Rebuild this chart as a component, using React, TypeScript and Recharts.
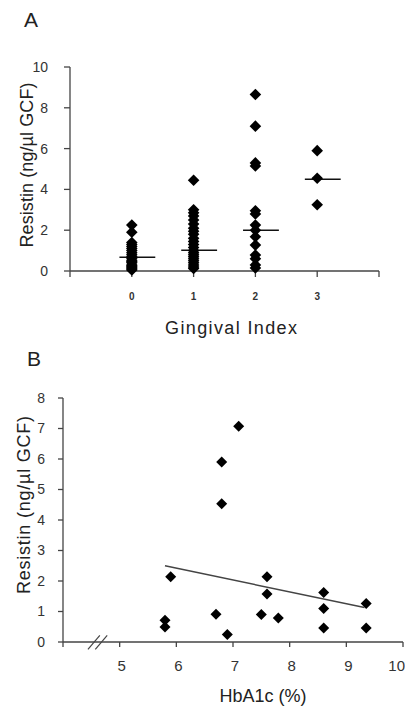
import { ScatterChart, Scatter, XAxis, YAxis, ReferenceLine, Label } from 'recharts'

const FONT = '"Liberation Sans", Arial, sans-serif'
const AXIS = '#444'

// panel A - resistin by gingival index
const giGroups = [0, 1, 2, 3]
const gi0 = [2.25, 1.9, 1.4, 1.3, 1.2, 1.1, 1.0, 0.9, 0.8, 0.7, 0.6, 0.5, 0.45, 0.4, 0.3, 0.25, 0.2, 0.15, 0.1, 0.05]
const gi1 = [4.45, 3.0, 2.85, 2.7, 2.5, 2.3, 2.1, 1.95, 1.8, 1.6, 1.45, 1.3, 1.15, 1.0, 0.9, 0.8, 0.7, 0.6, 0.5, 0.4, 0.3, 0.2, 0.12]
const gi2 = [8.65, 7.1, 5.3, 5.15, 2.95, 2.8, 2.25, 2.0, 1.68, 1.27, 0.78, 0.6, 0.3, 0.15]
const gi3 = [5.9, 4.55, 3.25]
const giMedians = [0.68, 1.02, 2.0, 4.5]
const giTicks = [-1, 0, 1, 2, 3, 4]
const giYTicks = [0, 2, 4, 6, 8, 10]

// panel B - resistin vs HbA1c
const hba1c = [7.1, 6.8, 6.8, 5.9, 5.8, 5.8, 6.7, 6.9, 7.6, 7.6, 7.5, 7.8, 8.6, 8.6, 8.6, 9.35, 9.35]
const resistinB = [7.07, 5.9, 4.53, 2.14, 0.71, 0.49, 0.91, 0.25, 2.14, 1.57, 0.9, 0.79, 1.62, 1.1, 0.46, 1.26, 0.46]
const trendX = [5.8, 9.32]
const trendY = [2.5, 1.13]
const hbTicks = [4, 5, 6, 7, 8, 9, 10]
const hbYTicks = [0, 1, 2, 3, 4, 5, 6, 7, 8]

const giData = [gi0, gi1, gi2, gi3].flatMap((vals, i) => vals.map((v) => ({ x: giGroups[i], y: v })))
const hbData = hba1c.map((x, i) => ({ x, y: resistinB[i] }))

const makeDiamond = (r: number) => (props: any) => {
  const { cx, cy } = props
  return <polygon points={`${cx},${cy - r} ${cx + r},${cy} ${cx},${cy + r} ${cx - r},${cy}`} fill="#000" />
}

// x ticks for panel B: first one unlabeled, last one kept inside the page edge
const HbTick = (props: any) => {
  const { x, y, payload } = props
  const v = payload.value
  if (v === hbTicks[0]) return <g />
  const last = v === hbTicks[hbTicks.length - 1]
  return (
    <text
      x={last ? 405 : x + 2}
      y={y}
      dy="0.71em"
      textAnchor={last ? 'end' : 'middle'}
      fontSize={15}
      fill="#333"
      fontFamily={FONT}
    >
      {v}
    </text>
  )
}

const titleStyle = { fontFamily: FONT, fill: '#222' }

function PanelA() {
  return (
    <ScatterChart width={405} height={340} margin={{ top: 67, right: 26, bottom: 39, left: 0 }}>
      <XAxis
        type="number"
        dataKey="x"
        domain={[-1, 4]}
        ticks={giTicks}
        tickFormatter={(v) => (v < 0 || v > 3 ? '' : String(v))}
        tick={{ fontSize: 10, fontWeight: 'bold', fill: '#333', fontFamily: FONT }}
        tickSize={6}
        tickMargin={16}
        height={30}
        stroke={AXIS}
        strokeWidth={1.3}
      >
        <Label
          content={() => (
            <text x={231} y={334} textAnchor="middle" fontSize={18} textLength={132} style={titleStyle}>
              Gingival Index
            </text>
          )}
        />
      </XAxis>
      <YAxis
        type="number"
        dataKey="y"
        domain={[0, 10]}
        ticks={giYTicks}
        tick={{ fontSize: 14, fill: '#333', fontFamily: FONT }}
        tickSize={6}
        tickMargin={16}
        width={70}
        stroke={AXIS}
        strokeWidth={1.3}
      >
        <Label
          content={() => (
            <g>
              <text x={24} y={27} fontSize={21} style={titleStyle}>A</text>
              <text
                x={27}
                y={165}
                transform="rotate(-90 27 165)"
                textAnchor="middle"
                dominantBaseline="central"
                fontSize={18}
                textLength={165}
                style={titleStyle}
              >
                Resistin (ng/µl GCF)
              </text>
            </g>
          )}
        />
      </YAxis>
      <Scatter data={giData} shape={makeDiamond(5.8)} isAnimationActive={false} />
      {giMedians.map((m, i) => (
        <ReferenceLine
          key={i}
          segment={[{ x: giGroups[i] - 0.2, y: m }, { x: giGroups[i] + 0.38, y: m }]}
          stroke="#111"
          strokeWidth={1.5}
        />
      ))}
    </ScatterChart>
  )
}

function PanelB() {
  return (
    <ScatterChart width={405} height={366} margin={{ top: 58, right: 2, bottom: 34, left: 0 }}>
      <XAxis
        type="number"
        dataKey="x"
        domain={[4, 10]}
        ticks={hbTicks}
        tick={<HbTick />}
        tickSize={5}
        tickMargin={13}
        height={30}
        stroke={AXIS}
        strokeWidth={1.3}
      >
        <Label
          content={() => (
            <text x={263} y={362} textAnchor="middle" fontSize={18} style={titleStyle}>
              HbA1c (%)
            </text>
          )}
        />
      </XAxis>
      <YAxis
        type="number"
        dataKey="y"
        domain={[0, 8]}
        ticks={hbYTicks}
        tick={{ fontSize: 14, fill: '#333', fontFamily: FONT }}
        tickSize={5}
        tickMargin={13}
        width={63}
        stroke={AXIS}
        strokeWidth={1.3}
      >
        <Label
          content={() => (
            <g>
              <text x={27} y={26} fontSize={21} style={titleStyle}>B</text>
              <text
                x={24}
                y={165}
                transform="rotate(-90 24 165)"
                textAnchor="middle"
                dominantBaseline="central"
                fontSize={18}
                textLength={178}
                style={titleStyle}
              >
                Resistin (ng/µl GCF)
              </text>
            </g>
          )}
        />
      </YAxis>
      {/* axis break marks */}
      <ReferenceLine segment={[{ x: 4.44, y: -0.24 }, { x: 4.65, y: 0.22 }]} stroke={AXIS} strokeWidth={1.2} ifOverflow="visible" />
      <ReferenceLine segment={[{ x: 4.57, y: -0.24 }, { x: 4.78, y: 0.22 }]} stroke={AXIS} strokeWidth={1.2} ifOverflow="visible" />
      <ReferenceLine
        segment={[{ x: trendX[0], y: trendY[0] }, { x: trendX[1], y: trendY[1] }]}
        stroke="#444"
        strokeWidth={1.5}
      />
      <Scatter data={hbData} shape={makeDiamond(5.5)} isAnimationActive={false} />
    </ScatterChart>
  )
}

export default function App() {
  return (
    <div style={{ position: 'absolute', left: 0, top: 0, width: 405, height: 706, background: '#fff', overflow: 'hidden' }}>
      <PanelA />
      <PanelB />
    </div>
  )
}
